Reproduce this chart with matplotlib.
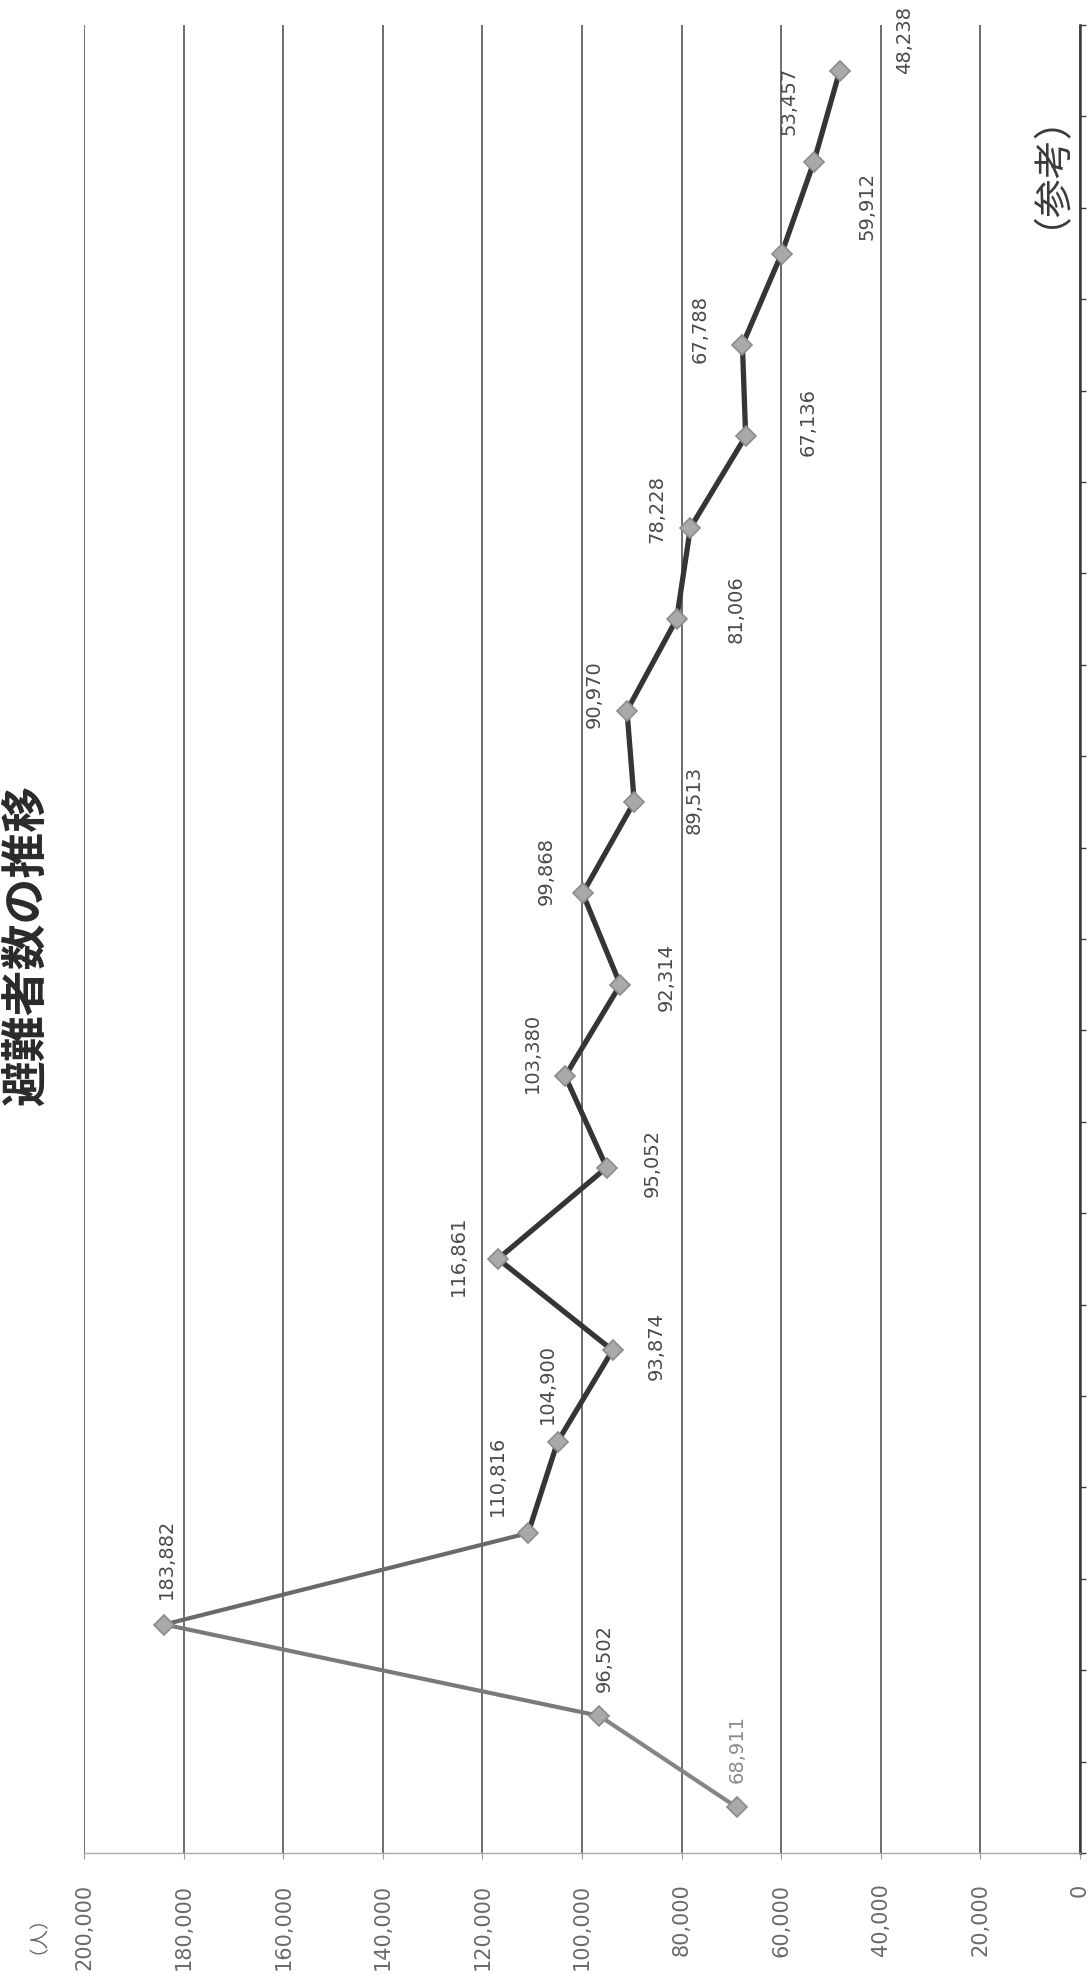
import matplotlib
matplotlib.use("Agg")
import matplotlib.pyplot as plt
from matplotlib.ticker import FuncFormatter

# data: number of evacuees per survey (time runs bottom -> top in the scanned page)
periods = list(range(1, 21))
evacuees = [68911, 96502, 183882, 110816, 104900, 93874, 116861, 95052, 103380, 92314,
            99868, 89513, 90970, 81006, 78228, 67136, 67788, 59912, 53457, 48238]

# label placement (offset from the point, in pixels: right, up)
label_offsets = [(0, 58), (5, 58), (2, 66), (-31, 57), (-10, 58), (44, 4), (-40, 3),
                 (46, 5), (-33, 23), (46, 8), (-36, 22), (60, 2), (-33, 16), (60, 10),
                 (-34, 19), (62, 14), (-42, 16), (85, 48), (-25, 61), (65, 31)]

value_ticks = list(range(0, 200001, 20000))

W, H = 1089, 1977
fig = plt.figure(figsize=(W / 100, H / 100), dpi=100)
fig.patch.set_facecolor("white")

left, right, bottom, top = 84, 1080, 1853, 25
ax = fig.add_axes([left / W, 1 - bottom / H, (right - left) / W, (bottom - top) / H])

ax.set_xlim(200000, 0)
ax.set_ylim(0, len(periods))
ypos = [i + 0.5 for i in range(len(periods))]

# gridlines
ax.set_xticks(value_ticks)
ax.xaxis.set_major_formatter(FuncFormatter(lambda v, p: f"{int(v):,}"))
ax.grid(axis="x", color="#454545", linewidth=1.1)
ax.set_axisbelow(True)
ax.tick_params(axis="x", direction="out", length=4, width=0.8, color="#999999",
               labelrotation=90, labelsize=15, labelcolor="#6a6a6a", pad=18)
for lab in ax.get_xticklabels():
    lab.set_va("top")

# category axis on the right
ax.yaxis.tick_right()
ax.set_yticks(range(len(periods) + 1))
ax.set_yticklabels([])
ax.tick_params(axis="y", direction="out", length=4, width=1.0, color="#444444")

for s in ["left", "top"]:
    ax.spines[s].set_visible(False)
ax.spines["right"].set_color("#3a3a3a")
ax.spines["right"].set_linewidth(1.8)
ax.spines["bottom"].set_color("#aaaaaa")
ax.spines["bottom"].set_linewidth(1.0)

# line: first segments faded grey, the rest dark
seg_colors = ["#858585", "#7a7a7a", "#6a6a6a"]
for i in range(len(evacuees) - 1):
    c = seg_colors[i] if i < len(seg_colors) else "#353535"
    lw = 3.0 if i < len(seg_colors) else 3.8
    ax.plot(evacuees[i:i + 2], ypos[i:i + 2], color=c, linewidth=lw,
            solid_capstyle="round", zorder=3)
ax.plot(evacuees, ypos, linestyle="none", marker="D", markersize=10,
        markerfacecolor="#a9a9a9", markeredgecolor="#8c8c8c", markeredgewidth=1.2, zorder=4)

for i, (v, y) in enumerate(zip(evacuees, ypos)):
    dx, dy = label_offsets[i]
    col = "#8a8a8a" if i == 0 else "#4a4a4a"
    ax.annotate(f"{v:,}", (v, y), xytext=(dx, dy), textcoords="offset pixels",
                rotation=90, ha="center", va="center", fontsize=14, color=col, zorder=5)

cjk = ["Noto Sans CJK JP", "DejaVu Sans"]
fig.text(27 / W, 1 - 945 / H, "避難者数の推移", rotation=90, ha="center", va="center",
         fontsize=33, fontweight="bold", color="#2a2a2a", family=cjk)
fig.text(1030 / W, 1 - 150 / H, "（参考）", rotation=90, ha="center", va="center",
         fontsize=28, color="#3a3a3a", family=cjk)
fig.text(28 / W, 1 - 1895 / H, "（人）", rotation=90, ha="center", va="top",
         fontsize=14, color="#6a6a6a", family=cjk)

fig.savefig("out.png", dpi=100, facecolor="white")
